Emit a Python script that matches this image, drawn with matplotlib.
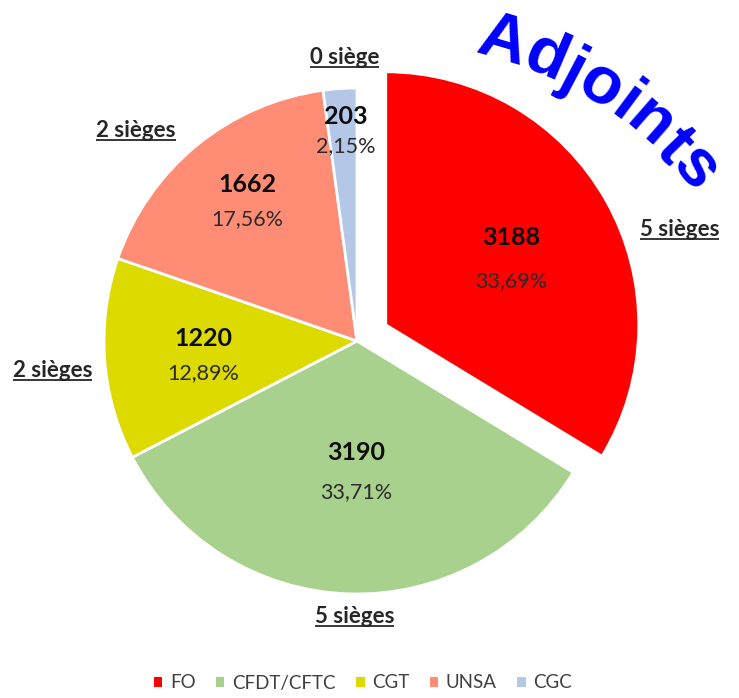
import numpy as np
import matplotlib
matplotlib.use('Agg')
import matplotlib.pyplot as plt
from matplotlib.patches import Patch
from matplotlib.font_manager import FontProperties
from matplotlib.textpath import TextToPath

# data
unions = ['FO', 'CFDT/CFTC', 'CGT', 'UNSA', 'CGC']
votes = [3188, 3190, 1220, 1662, 203]
percents = ['33,69%', '33,71%', '12,89%', '17,56%', '2,15%']
seats = ['5 sièges', '5 sièges', '2 sièges', '2 sièges', '0 siège']
title = 'Adjoints'

colors = ['#FF0000', '#A9D18E', '#DDDA00', '#FF8C75', '#B4C7E7']

W, H = 739, 698
fig = plt.figure(figsize=(W / 100, H / 100), dpi=100)
ax = fig.add_axes([0, 0, 1, 1])

# pie in pixel-like data units
center = (357, 357)
radius = 253
explode = [33, 0, 0, 0, 0]

wedges, _ = ax.pie(votes, colors=colors, startangle=90, counterclock=False,
                   explode=explode, radius=radius, center=center,
                   wedgeprops=dict(edgecolor='white', linewidth=2))
ax.set_xlim(0, W)
ax.set_ylim(0, H)
ax.set_aspect('equal')
ax.axis('off')

# mid angles, clockwise from 12 o'clock
fracs = np.array(votes) / sum(votes) * 360
starts = np.concatenate([[0], np.cumsum(fracs)[:-1]])
mids = starts + fracs / 2

# label placement (fraction of radius, angle tweak)
lab_r = [0.56, 0.52, 0.61, 0.70, 0.83]
lab_da = [1.9, -1.6, -1.4, 1.0, 0.9]
lab_gap = [44, 40, 35, 35, 29]
seat_r = [1.22, 1.09, 1.21, 1.205, 1.12]
seat_da = [11.5, -1.4, -1.4, -7.1, 1.3]


def polar(i, r, da):
    ang = np.deg2rad(90 - (mids[i] + da))
    cx = center[0] + explode[i] * np.cos(np.deg2rad(90 - mids[i]))
    cy = center[1] + explode[i] * np.sin(np.deg2rad(90 - mids[i]))
    return cx + r * radius * np.cos(ang), cy + r * radius * np.sin(ang)


font = 'Lato'
seat_texts = []
for i in range(len(votes)):
    x, y = polar(i, lab_r[i], lab_da[i])
    ax.text(x, y + lab_gap[i] / 2, str(votes[i]), ha='center', va='center',
            fontsize=18, fontweight='bold', color='#0d0d0d', family=font)
    ax.text(x, y - lab_gap[i] / 2, percents[i], ha='center', va='center',
            fontsize=15.5, color='#2b2b2b', family=font)
    sx, sy = polar(i, seat_r[i], seat_da[i])
    t = ax.text(sx, sy - 6, seats[i], ha='center', va='baseline',
                fontsize=16, fontweight='bold', color='#262626', family=font)
    seat_texts.append((t, sy - 6))

# underline seat labels
fig.canvas.draw()
renderer = fig.canvas.get_renderer()
for t, by in seat_texts:
    bb = t.get_window_extent(renderer).transformed(ax.transData.inverted())
    ax.plot([bb.x0, bb.x1], [by - 3, by - 3], color='#262626', lw=1.3,
            solid_capstyle='butt')

# curved title
fp = FontProperties(family='Liberation Sans', weight='bold', size=48)
ttp = TextToPath()


def width_px(s):
    if not s:
        return 0.0
    w, _, _ = ttp.get_text_width_height_descent(s, fp, ismath=False)
    return w * 100 / 72


arc_c = (389, 275)
arc_r = 380
arc_mid = 57.0
total = width_px(title)
for i, ch in enumerate(title):
    s = width_px(title[:i]) + width_px(ch) / 2 - total / 2
    th = arc_mid - np.rad2deg(s / arc_r)
    x = arc_c[0] + arc_r * np.cos(np.deg2rad(th))
    y = arc_c[1] + arc_r * np.sin(np.deg2rad(th))
    ax.text(x, y, ch, fontproperties=fp, color='#0000FF', ha='center',
            va='baseline', rotation=th - 90, rotation_mode='anchor')

# legend
handles = [Patch(facecolor=c, edgecolor='none') for c in colors]
ax.legend(handles, unions, loc='center', bbox_to_anchor=(363 / W, 1 - 683 / H),
          ncol=5, frameon=False, handlelength=0.45, handleheight=0.45,
          handletextpad=0.4, columnspacing=1.1, labelcolor='#404040',
          prop=FontProperties(family=font, size=13.5))

fig.savefig('out.png', dpi=100, facecolor='white')
